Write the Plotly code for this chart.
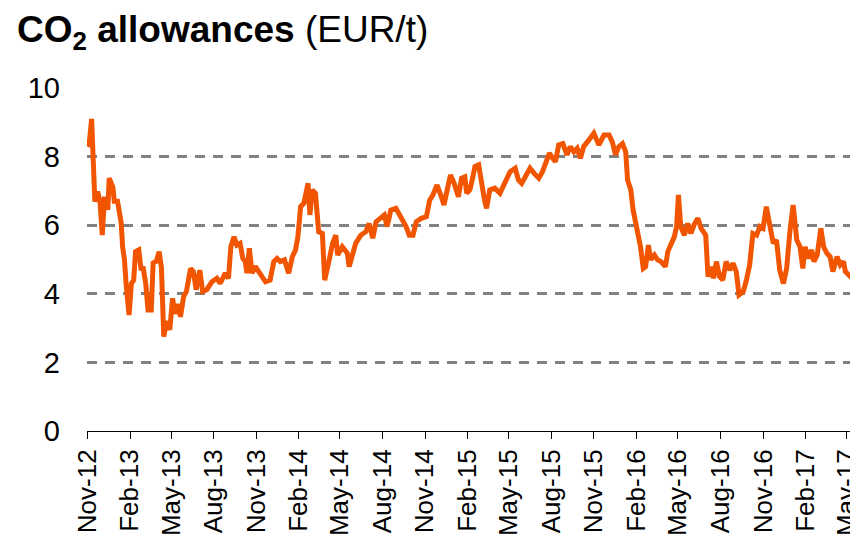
import plotly.graph_objects as go

dates = [
    "2012-11-01", "2012-11-05", "2012-11-10", "2012-11-12", "2012-11-14", "2012-11-17", "2012-11-23", "2012-11-28",
    "2012-12-03", "2012-12-08", "2012-12-15", "2012-12-18", "2012-12-26", "2012-12-29",
    "2013-01-05", "2013-01-13", "2013-01-16", "2013-01-20", "2013-01-24", "2013-01-30",
    "2013-02-04", "2013-02-09", "2013-02-13", "2013-02-20", "2013-02-25",
    "2013-03-01", "2013-03-07", "2013-03-12", "2013-03-19", "2013-03-23", "2013-03-30",
    "2013-04-05", "2013-04-10", "2013-04-15", "2013-04-21", "2013-04-28",
    "2013-05-04", "2013-05-09", "2013-05-16", "2013-05-21", "2013-05-28",
    "2013-06-03", "2013-06-12", "2013-06-18", "2013-06-24",
    "2013-07-02", "2013-07-08", "2013-07-17", "2013-07-28",
    "2013-08-08", "2013-08-15", "2013-08-26",
    "2013-09-02", "2013-09-07", "2013-09-14", "2013-09-20", "2013-09-27",
    "2013-10-03", "2013-10-08", "2013-10-12", "2013-10-17", "2013-10-23", "2013-10-30",
    "2013-11-06", "2013-11-13", "2013-11-21",
    "2013-12-01", "2013-12-09", "2013-12-16", "2013-12-23",
    "2014-01-01", "2014-01-10", "2014-01-18", "2014-01-25", "2014-01-30",
    "2014-02-05", "2014-02-12", "2014-02-16", "2014-02-21", "2014-02-25",
    "2014-03-02", "2014-03-09", "2014-03-16", "2014-03-24", "2014-03-29",
    "2014-04-07", "2014-04-15", "2014-04-22", "2014-04-26",
    "2014-05-06", "2014-05-17", "2014-05-21", "2014-05-28",
    "2014-06-04", "2014-06-15", "2014-06-26",
    "2014-07-03", "2014-07-11", "2014-07-18", "2014-07-29",
    "2014-08-05", "2014-08-11", "2014-08-19", "2014-08-30",
    "2014-09-10", "2014-09-21", "2014-09-28",
    "2014-10-06", "2014-10-13", "2014-10-24",
    "2014-11-04", "2014-11-11", "2014-11-18", "2014-11-27",
    "2014-12-05", "2014-12-12", "2014-12-19", "2014-12-26",
    "2015-01-03", "2015-01-12", "2015-01-19", "2015-01-26", "2015-01-30",
    "2015-02-06", "2015-02-11", "2015-02-17", "2015-02-25",
    "2015-03-03", "2015-03-09", "2015-03-14", "2015-03-21",
    "2015-04-01", "2015-04-12", "2015-04-19", "2015-04-27",
    "2015-05-04", "2015-05-15", "2015-05-22", "2015-05-29",
    "2015-06-07", "2015-06-16", "2015-06-25",
    "2015-07-05", "2015-07-13", "2015-07-19", "2015-07-28",
    "2015-08-04", "2015-08-10", "2015-08-17", "2015-08-26",
    "2015-09-04", "2015-09-11", "2015-09-19", "2015-09-26",
    "2015-10-03", "2015-10-10", "2015-10-21",
    "2015-11-01", "2015-11-12", "2015-11-23",
    "2015-12-04", "2015-12-11", "2015-12-18", "2015-12-25",
    "2016-01-02", "2016-01-09", "2016-01-13", "2016-01-20", "2016-01-25", "2016-01-31",
    "2016-02-05", "2016-02-10", "2016-02-16", "2016-02-21", "2016-02-27",
    "2016-03-03", "2016-03-11", "2016-03-18", "2016-03-25",
    "2016-04-04", "2016-04-09", "2016-04-16", "2016-04-23", "2016-04-28",
    "2016-05-02", "2016-05-07", "2016-05-15", "2016-05-22", "2016-05-29",
    "2016-06-06", "2016-06-13", "2016-06-20", "2016-06-30",
    "2016-07-05", "2016-07-12", "2016-07-17", "2016-07-23", "2016-07-30",
    "2016-08-06", "2016-08-13", "2016-08-21", "2016-08-28",
    "2016-09-04", "2016-09-10", "2016-09-19", "2016-09-26",
    "2016-10-03", "2016-10-10", "2016-10-18", "2016-10-25",
    "2016-11-01", "2016-11-08", "2016-11-16", "2016-11-23", "2016-11-30",
    "2016-12-07", "2016-12-15", "2016-12-22", "2016-12-29",
    "2017-01-05", "2017-01-13", "2017-01-20", "2017-01-26", "2017-01-31",
    "2017-02-07", "2017-02-14", "2017-02-19", "2017-02-26",
    "2017-03-06", "2017-03-12", "2017-03-19", "2017-03-26",
    "2017-04-01", "2017-04-10", "2017-04-17", "2017-04-24", "2017-04-28",
    "2017-05-07", "2017-05-16",
]

prices = [
    8.29, 8.40, 9.10, 8.00, 6.94, 6.69, 6.98, 6.70,
    5.71, 6.83, 6.45, 7.37, 7.10, 6.70,
    6.70, 6.06, 5.37, 5.00, 4.21, 3.38,
    4.30, 4.40, 5.23, 5.28, 4.69,
    4.80, 4.30, 3.53, 3.53, 4.90, 4.95,
    5.23, 4.76, 2.75, 3.20, 2.95,
    3.87, 3.42, 3.70, 3.33, 3.92,
    4.07, 4.74, 4.65, 4.12,
    4.69, 4.07, 4.12, 4.35,
    4.45, 4.30, 4.60,
    4.45, 5.37, 5.66, 5.42, 5.47,
    5.03, 4.95, 4.60, 5.33, 4.60, 4.80,
    4.65, 4.50, 4.35,
    4.40, 4.94, 5.03, 4.94,
    4.99, 4.60, 5.08, 5.28, 5.66,
    6.54, 6.64, 6.88, 7.22, 6.30,
    7.03, 6.93, 5.81, 5.76, 4.40,
    4.94, 5.47, 5.71, 5.13,
    5.37, 5.18, 4.79, 5.18,
    5.47, 5.71, 5.81,
    6.05, 5.62, 6.10, 6.20,
    6.30, 5.96, 6.44, 6.49,
    6.25, 5.96, 5.71,
    5.71, 6.10, 6.20,
    6.25, 6.73, 6.88, 7.17,
    6.88, 6.59, 7.03, 7.46,
    7.22, 6.83, 7.37, 7.41, 6.93,
    7.03, 7.32, 7.71, 7.76,
    7.13, 6.78, 6.49, 7.03,
    7.08, 6.93, 7.13, 7.41,
    7.56, 7.66, 7.32, 7.22,
    7.46, 7.66, 7.51,
    7.37, 7.56, 7.80, 8.10,
    7.95, 7.85, 8.34, 8.38,
    8.05, 8.29, 8.14, 8.24,
    7.95, 8.29, 8.48,
    8.68, 8.34, 8.63,
    8.63, 8.43, 8.05, 8.29,
    8.38, 8.14, 7.32, 7.03, 6.44, 6.05,
    5.86, 5.37, 4.74, 4.79, 5.42,
    4.99, 5.13, 4.99, 4.94,
    4.79, 5.23, 5.47, 5.66, 5.96,
    6.88, 5.96, 5.71, 6.05, 5.76,
    6.05, 6.20, 5.91, 5.71,
    4.50, 4.79, 4.45, 4.94, 4.50,
    4.40, 4.94, 4.69, 4.89,
    4.65, 3.97, 4.06, 4.40,
    4.84, 5.76, 5.71, 5.96,
    5.91, 6.54, 6.05, 5.47, 5.57,
    4.69, 4.30, 4.74, 5.81,
    6.59, 5.57, 5.37, 4.74, 5.37,
    5.03, 5.28, 4.94, 5.13,
    5.91, 5.37, 5.18, 5.08,
    4.65, 5.08, 4.84, 4.94, 4.65,
    4.50, 4.40,
]

y_ticks = [0, 2, 4, 6, 8, 10]
x_range = ["2012-10-31", "2017-05-08"]
title_text = "<b>CO<sub>2</sub> allowances</b> (EUR/t)"

fig = go.Figure()
fig.add_trace(go.Scatter(
    x=dates, y=prices, mode="lines",
    line=dict(color="#F25500", width=5),
    showlegend=False, hoverinfo="x+y",
))

fig.update_layout(
    width=850, height=539,
    paper_bgcolor="white", plot_bgcolor="white",
    margin=dict(l=87, r=0, t=88, b=108, autoexpand=False),
    font=dict(family="Liberation Sans, Arial, sans-serif", color="black"),
    title=dict(text=title_text, x=17 / 850, xanchor="left", xref="container",
               y=1 - 29 / 539, yanchor="middle", yref="container",
               font=dict(size=37, color="black")),
)
fig.update_xaxes(
    type="date", range=x_range, automargin=False,
    tick0="2012-11-01", dtick="M3", tickformat="%b-%y",
    tickangle=-90, tickfont=dict(size=26), ticklabeloverflow="allow",
    ticks="outside", ticklen=7, tickcolor="black", tickwidth=1,
    showline=True, linecolor="black", linewidth=1,
    showgrid=False, zeroline=False,
)
fig.update_yaxes(
    range=[0, 10], tickvals=y_ticks, tickfont=dict(size=29), automargin=False,
    showgrid=True, gridcolor="#808080", gridwidth=3, griddash="10px,8px",
    zeroline=False, showline=False, ticks="", ticklabelstandoff=26,
)

fig.write_html(
    "out.html",
    config={"displayModeBar": False},
    post_script="document.body.style.margin='0';document.body.style.overflow='hidden';",
)
